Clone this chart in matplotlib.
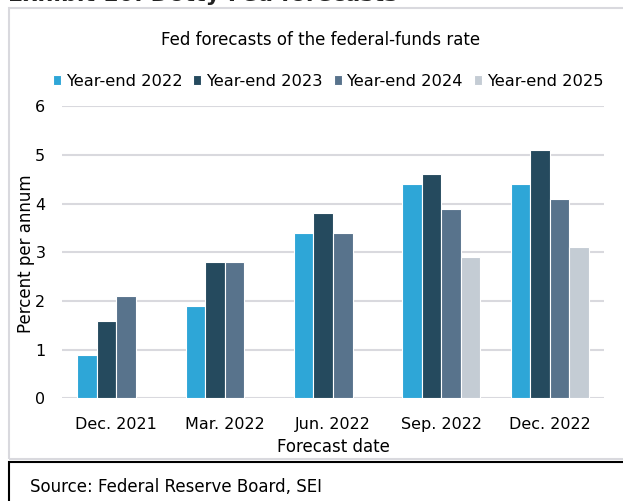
import matplotlib.pyplot as plt
import numpy as np
from matplotlib.patches import Rectangle

plt.rcParams["font.family"] = ["DejaVu Sans"]

forecast_dates = ["Dec. 2021", "Mar. 2022", "Jun. 2022", "Sep. 2022", "Dec. 2022"]
series_names = ["Year-end 2022", "Year-end 2023", "Year-end 2024", "Year-end 2025"]
year_end_2022 = [0.9, 1.9, 3.4, 4.4, 4.4]
year_end_2023 = [1.6, 2.8, 3.8, 4.6, 5.1]
year_end_2024 = [2.1, 2.8, 3.4, 3.9, 4.1]
year_end_2025 = [np.nan, np.nan, np.nan, 2.9, 3.1]
colors = ["#2ea6d7", "#254a5e", "#58738c", "#c4ccd4"]


def main() -> None:
    fig = plt.figure(figsize=(6.23, 5.01), dpi=100)
    ax = fig.add_axes([0.0995, 0.2046, 0.87, 0.5834])

    series = [year_end_2022, year_end_2023, year_end_2024, year_end_2025]
    x = np.arange(len(forecast_dates))
    width = 0.18
    for i, (name, values, color) in enumerate(zip(series_names, series, colors)):
        ax.bar(x + (i - 1.5) * width, values, width, color=color, label=name,
               edgecolor="white", linewidth=0.8, zorder=3)

    ax.set_xlim(-0.5, len(forecast_dates) - 0.5)
    ax.set_ylim(0, 6)
    ax.set_yticks(range(7))
    ax.set_xticks(x, forecast_dates)
    ax.tick_params(length=0, labelsize=11.5, colors="black")
    ax.tick_params(axis="x", pad=13)
    ax.tick_params(axis="y", pad=12)
    ax.grid(axis="y", color="#d9d9de", linewidth=1.5, zorder=0)
    for side in ["top", "right", "left", "bottom"]:
        ax.spines[side].set_visible(False)
    ax.set_xlabel("Forecast date", fontsize=12, labelpad=5)
    ax.set_ylabel("Percent per annum", fontsize=12, va="center")
    ax.yaxis.set_label_coords(-0.067, 0.497)

    ax.legend(loc="center", bbox_to_anchor=(0.491, 1.085), ncol=4, frameon=False,
              fontsize=11.7, handlelength=0.5, handleheight=0.5, handletextpad=0.3,
              columnspacing=0.66, borderaxespad=0)
    fig.text(321 / 623, 1 - 40 / 501, "Fed forecasts of the federal-funds rate",
             ha="center", va="center", fontsize=12)

    fig.text(0.013, 0.999, "Exhibit 10: Dotty Fed forecasts", ha="left",
             va="baseline", fontsize=16, fontweight="bold", color="#222222")

    # chart frame and source box
    fig.patches.append(Rectangle((9 / 623, 1 - 459 / 501), 620 / 623, 451 / 501,
                                 transform=fig.transFigure, fill=False,
                                 edgecolor="#d9d9de", linewidth=1.5))
    fig.patches.append(Rectangle((9 / 623, -0.02), 620 / 623, 0.02 + 39 / 501,
                                 transform=fig.transFigure, fill=False,
                                 edgecolor="black", linewidth=1.5))
    fig.text(30 / 623, 1 - 487 / 501, "Source: Federal Reserve Board, SEI",
             ha="left", va="center", fontsize=12)

    fig.savefig("out.png", dpi=100)
    plt.close(fig)


if __name__ == "__main__":
    main()
